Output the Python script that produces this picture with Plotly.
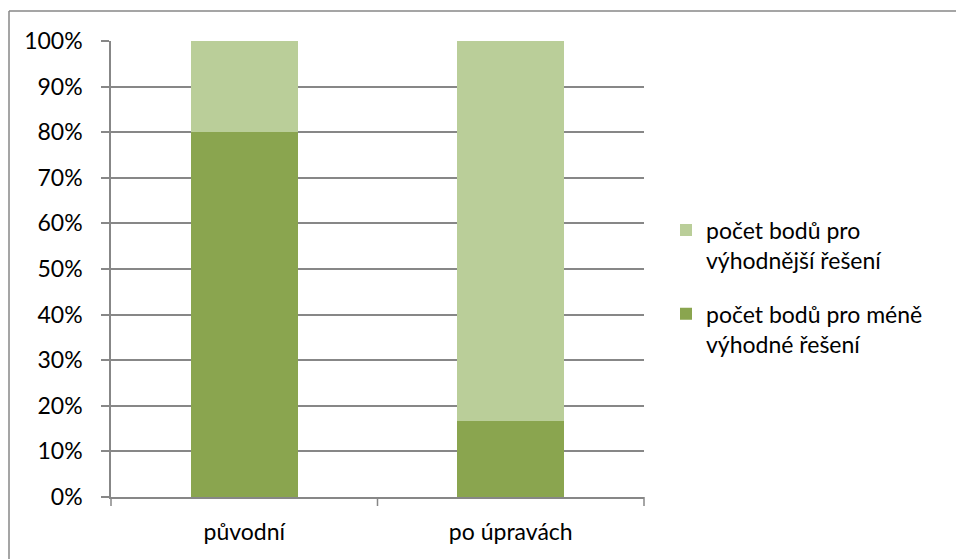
import plotly.graph_objects as go

categories = ["původní", "po úpravách"]
less_favourable = [80.0, 16.67]
more_favourable = [20.0, 83.33]
series_names = ["počet bodů pro méně<br>výhodné řešení", "počet bodů pro<br>výhodnější řešení"]
y_ticks = [0, 10, 20, 30, 40, 50, 60, 70, 80, 90, 100]
y_labels = [f"{v}%" for v in y_ticks]

W, H = 956, 559
L, R, T, B = 111, 644, 41, 497
pw, ph = R - L, B - T

fig = go.Figure()
fig.add_trace(go.Bar(x=categories, y=less_favourable, name=series_names[0],
                     legendgroup="g1", legendrank=2,
                     marker=dict(color="#8AA54F", line=dict(width=0))))
fig.add_trace(go.Bar(x=categories, y=more_favourable, name=series_names[1],
                     legendgroup="g2", legendrank=1,
                     marker=dict(color="#BACE99", line=dict(width=0))))

grid = "#878787"
FS = 23
fig.update_layout(
    width=W, height=H,
    barmode="stack", bargap=0.6,
    plot_bgcolor="white", paper_bgcolor="white",
    margin=dict(l=L, r=W - R, t=T, b=H - B, pad=0),
    font=dict(family="Lato, Open Sans, sans-serif", size=FS, color="#000000"),
    legend=dict(x=(666 - L) / pw, y=(B - 287) / ph, xanchor="left", yanchor="middle",
                traceorder="grouped", tracegroupgap=21, valign="top",
                font=dict(size=FS), itemwidth=30,
                bgcolor="rgba(0,0,0,0)"),
    xaxis=dict(showline=True, linecolor=grid, linewidth=1.5,
               ticks="outside", ticklen=0, showgrid=False,
               tickfont=dict(size=FS), ticklabelstandoff=14),
    yaxis=dict(range=[0, 100], tickvals=y_ticks, ticktext=y_labels,
               showline=True, linecolor=grid, linewidth=1.5,
               ticks="outside", ticklen=8, tickcolor=grid, tickwidth=1.5,
               showgrid=True, gridcolor=grid, gridwidth=1.5,
               zeroline=False, tickfont=dict(size=FS), ticklabelstandoff=14),
    bargroupgap=0,
)

# category-boundary tick marks on x axis (Excel style)
for xp in [0, 0.5, 1.0]:
    fig.add_shape(type="line", xref="paper", yref="paper",
                  x0=xp, x1=xp, y0=0, y1=-9 / ph,
                  line=dict(color=grid, width=1.5))

# chart outer border (top and left visible)
fig.add_shape(type="line", xref="paper", yref="paper",
              x0=(9 - L) / pw, x1=(W - L) / pw,
              y0=(B - 11) / ph, y1=(B - 11) / ph,
              line=dict(color=grid, width=1.5))
fig.add_shape(type="line", xref="paper", yref="paper",
              x0=(9 - L) / pw, x1=(9 - L) / pw,
              y0=(B - 11) / ph, y1=(B - H) / ph,
              line=dict(color=grid, width=1.5))

fig.write_html("out.html")
